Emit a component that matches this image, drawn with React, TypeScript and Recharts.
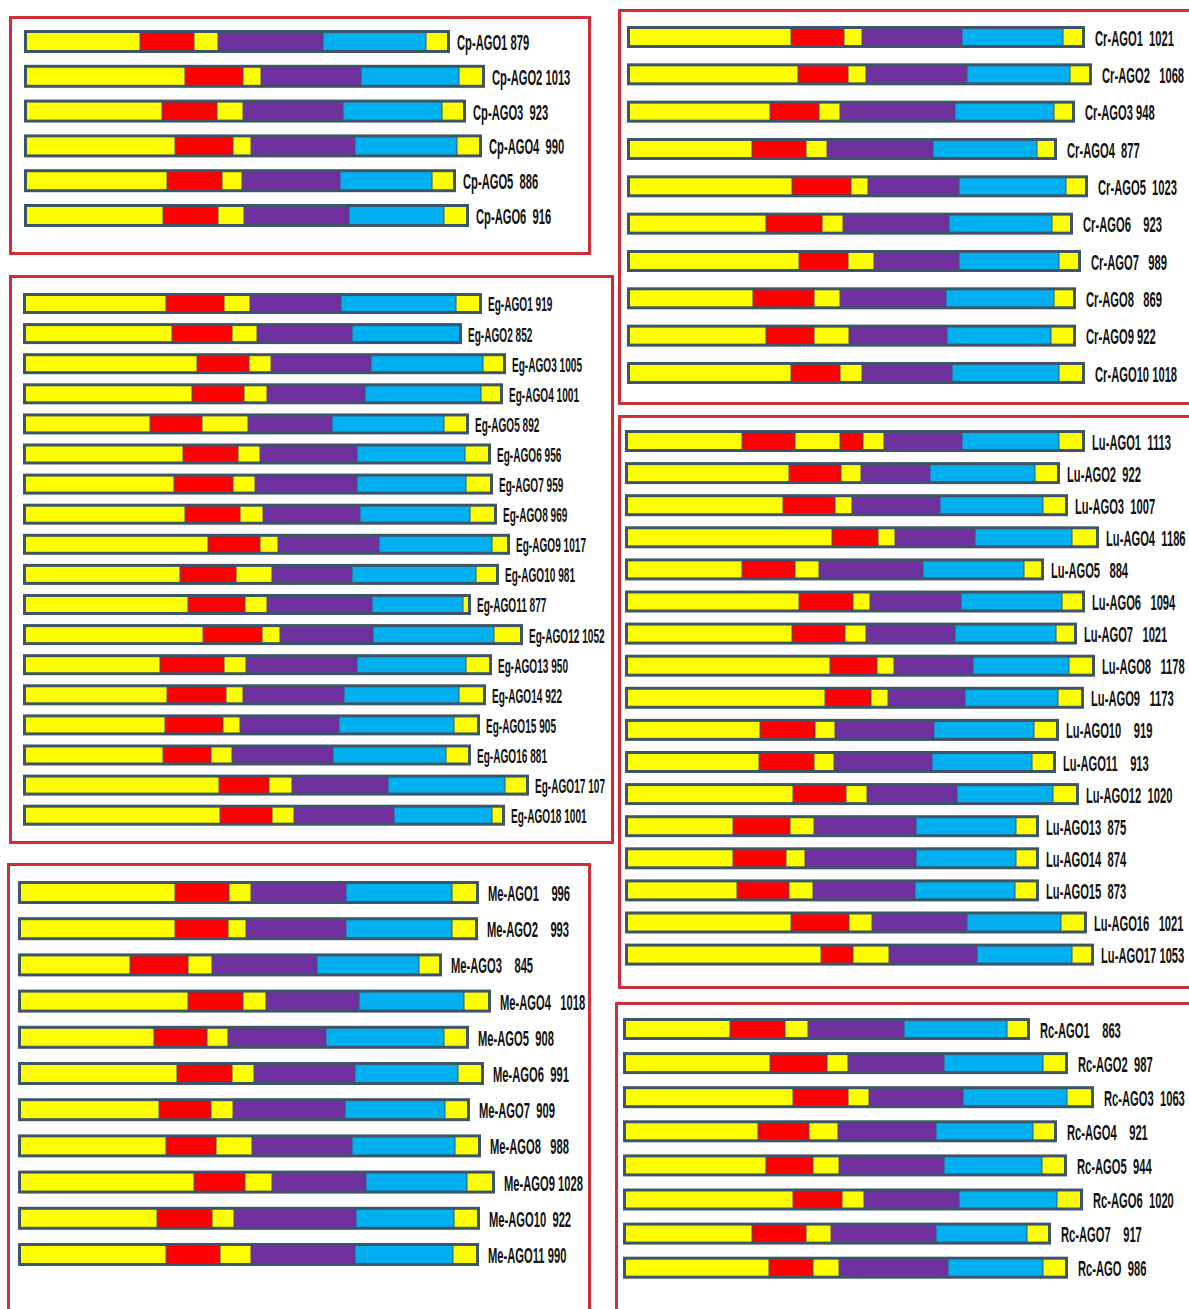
import React from 'react';
import { BarChart, Bar, XAxis, YAxis, Cell } from 'recharts';

// domain colours
const YELLOW = '#FFFF00';
const RED = '#FF0000';
const PURPLE = '#7030A0';
const BLUE = '#00B0F0';
const EDGE = '#3D5568';
const FRAME = '#CF2F37';

// usual order of the blocks, and the longer one used by Lu-AGO1
const DOMAINS6 = [YELLOW, RED, YELLOW, PURPLE, BLUE, YELLOW];
const DOMAINS8 = [YELLOW, RED, YELLOW, RED, YELLOW, PURPLE, BLUE, YELLOW];

// ---- Cp ----
const cpNames = ['Cp-AGO1 879', 'Cp-AGO2 1013', 'Cp-AGO3  923', 'Cp-AGO4  990', 'Cp-AGO5  886', 'Cp-AGO6  916'];
const cpSegs = [
  [116, 54, 24, 105, 103, 24],
  [161, 58, 18, 100, 98, 26],
  [138, 55, 26, 100, 99, 24],
  [151, 58, 18, 104, 102, 25],
  [143, 55, 20, 98, 92, 24],
  [139, 55, 26, 105, 95, 25],
];

// ---- Eg ----
const egNames = [
  'Eg-AGO1 919', 'Eg-AGO2 852', 'Eg-AGO3 1005', 'Eg-AGO4 1001', 'Eg-AGO5 892', 'Eg-AGO6 956',
  'Eg-AGO7 959', 'Eg-AGO8 969', 'Eg-AGO9 1017', 'Eg-AGO10 981', 'Eg-AGO11 877', 'Eg-AGO12 1052',
  'Eg-AGO13 950', 'Eg-AGO14 922', 'Eg-AGO15 905', 'Eg-AGO16 881', 'Eg-AGO17 107', 'Eg-AGO18 1001',
];
const egSegs = [
  [143, 58, 26, 91, 115, 26],
  [149, 60, 25, 95, 110, 0],
  [174, 52, 22, 100, 112, 23],
  [169, 52, 23, 98, 116, 22],
  [127, 52, 46, 84, 112, 25],
  [160, 55, 22, 97, 108, 26],
  [151, 59, 22, 102, 109, 27],
  [162, 55, 23, 97, 110, 27],
  [185, 52, 18, 101, 113, 18],
  [157, 56, 36, 80, 124, 23],
  [165, 57, 22, 105, 91, 8],
  [180, 59, 18, 93, 121, 29],
  [137, 64, 22, 111, 109, 26],
  [144, 59, 17, 101, 115, 27],
  [142, 58, 17, 99, 115, 26],
  [140, 48, 21, 101, 113, 25],
  [196, 50, 23, 96, 117, 24],
  [197, 52, 22, 100, 98, 13],
];

// ---- Me ----
const meNames = [
  'Me-AGO1    996', 'Me-AGO2    993', 'Me-AGO3    845', 'Me-AGO4   1018', 'Me-AGO5  908', 'Me-AGO6  991',
  'Me-AGO7  909', 'Me-AGO8   988', 'Me-AGO9 1028', 'Me-AGO10  922', 'Me-AGO11 990',
];
const meSegs = [
  [157, 54, 22, 95, 106, 27],
  [157, 53, 18, 100, 106, 26],
  [112, 58, 24, 105, 102, 23],
  [170, 55, 23, 93, 105, 27],
  [136, 53, 21, 98, 118, 25],
  [159, 55, 22, 101, 103, 26],
  [141, 52, 22, 112, 100, 25],
  [148, 50, 36, 100, 103, 26],
  [176, 51, 27, 94, 101, 28],
  [139, 55, 22, 122, 98, 26],
  [148, 54, 31, 104, 98, 26],
];

// ---- Cr ----
const crNames = [
  'Cr-AGO1  1021', 'Cr-AGO2   1068', 'Cr-AGO3 948', 'Cr-AGO4  877', 'Cr-AGO5  1023',
  'Cr-AGO6    923', 'Cr-AGO7   989', 'Cr-AGO8   869', 'Cr-AGO9 922', 'Cr-AGO10 1018',
];
const crSegs = [
  [164, 53, 18, 100, 101, 22],
  [171, 50, 18, 101, 103, 22],
  [143, 49, 21, 115, 99, 21],
  [125, 54, 21, 106, 104, 20],
  [165, 59, 17, 91, 107, 22],
  [139, 56, 21, 106, 103, 21],
  [172, 49, 26, 85, 100, 22],
  [126, 61, 26, 106, 108, 22],
  [139, 48, 35, 98, 104, 25],
  [164, 49, 22, 90, 107, 26],
];

// ---- Lu ----
const luNames = [
  'Lu-AGO1  1113', 'Lu-AGO2  922', 'Lu-AGO3  1007', 'Lu-AGO4  1186', 'Lu-AGO5   884', 'Lu-AGO6   1094',
  'Lu-AGO7   1021', 'Lu-AGO8   1178', 'Lu-AGO9   1173', 'Lu-AGO10    919', 'Lu-AGO11    913',
  'Lu-AGO12  1020', 'Lu-AGO13  875', 'Lu-AGO14  874', 'Lu-AGO15  873', 'Lu-AGO16   1021', 'Lu-AGO17 1053',
];
const luSegs = [
  [117, 53, 45, 23, 21, 78, 97, 26],
  [164, 52, 20, 69, 105, 25],
  [158, 52, 17, 88, 103, 25],
  [207, 46, 17, 80, 97, 27],
  [117, 53, 24, 104, 101, 20],
  [174, 54, 17, 91, 101, 23],
  [167, 53, 21, 89, 101, 21],
  [205, 47, 17, 79, 96, 26],
  [200, 46, 17, 77, 93, 26],
  [135, 55, 20, 99, 100, 25],
  [134, 55, 20, 98, 100, 24],
  [168, 53, 21, 90, 96, 26],
  [108, 57, 24, 102, 100, 23],
  [108, 53, 19, 111, 100, 23],
  [112, 52, 24, 102, 100, 24],
  [166, 58, 23, 95, 94, 26],
  [196, 32, 36, 88, 95, 22],
];

// ---- Rc ----
const rcNames = [
  'Rc-AGO1    863', 'Rc-AGO2  987', 'Rc-AGO3  1063', 'Rc-AGO4    921', 'Rc-AGO5  944',
  'Rc-AGO6  1020', 'Rc-AGO7    917', 'Rc-AGO  986',
];
const rcSegs = [
  [107, 55, 23, 96, 103, 23],
  [147, 57, 21, 96, 99, 25],
  [170, 55, 21, 94, 104, 27],
  [135, 51, 29, 98, 97, 24],
  [143, 47, 26, 105, 98, 25],
  [170, 49, 22, 95, 98, 26],
  [129, 54, 25, 105, 91, 24],
  [146, 44, 26, 109, 95, 25],
];

const MAX_SEGS = 8;
const BORDER = 3;

const lastNonZero = (row: number[]) => {
  let k = row.length - 1;
  while (k > 0 && !row[k]) k--;
  return k;
};

interface PanelProps {
  names: string[];
  segs: number[][];
  left: number;
  top: number;
  width: number;
  rowHeight: number;
  barSize?: number;
  labelGap?: number;
  fontSize?: number;
  textWidth?: number; // horizontal size of the squeezed label font
}

const DomainPanel: React.FC<PanelProps> = ({
  names, segs, left, top, width, rowHeight, barSize = 21, labelGap = 8, fontSize = 22, textWidth = 11.2,
}) => {
  const data = segs.map((s, i) => {
    const row: Record<string, any> = { name: names[i] };
    for (let k = 0; k < MAX_SEGS; k++) row['s' + k] = s[k] ?? 0;
    return row;
  });
  const squeeze = textWidth / fontSize;

  const renderSeg = (k: number) => (props: any) => {
    const { x, y, width: w, height: h, index } = props;
    const row = segs[index];
    if (!row || !row[k] || !(w > 0)) return <g />;
    const colors = row.length > 6 ? DOMAINS8 : DOMAINS6;
    const first = k === 0;
    const last = k === lastNonZero(row);
    const l = first ? BORDER : 0.5;
    const r = last ? BORDER : 0.5;
    return (
      <g>
        <rect x={x} y={y} width={w} height={h} fill={EDGE} />
        <rect x={x + l} y={y + BORDER} width={Math.max(0, w - l - r)} height={h - 2 * BORDER} fill={colors[k]} />
        {last && (
          <text
            transform={`translate(${x + w + labelGap},${y + h / 2 + 1}) scale(${squeeze},1)`}
            dominantBaseline="central"
            fontFamily="'Liberation Sans', Arial, sans-serif"
            fontSize={fontSize}
            fontWeight="bold"
            fill="#111"
            style={{ whiteSpace: 'pre' }}
          >
            {names[index]}
          </text>
        )}
      </g>
    );
  };

  return (
    <div style={{ position: 'absolute', left, top }}>
      <BarChart
        width={width}
        height={rowHeight * segs.length}
        data={data}
        layout="vertical"
        margin={{ top: 0, right: 0, bottom: 0, left: 0 }}
        barSize={barSize}
      >
        <XAxis type="number" hide domain={[0, width]} allowDataOverflow />
        <YAxis type="category" dataKey="name" hide />
        {Array.from({ length: MAX_SEGS }, (_, k) => (
          <Bar key={k} dataKey={'s' + k} stackId="dom" isAnimationActive={false} shape={renderSeg(k)}>
            {data.map((_, i) => (
              <Cell key={i} fill={(segs[i].length > 6 ? DOMAINS8 : DOMAINS6)[k] || YELLOW} />
            ))}
          </Bar>
        ))}
      </BarChart>
    </div>
  );
};

const Frame: React.FC<{ left: number; top: number; width: number; height: number }> = ({ left, top, width, height }) => (
  <div
    style={{
      position: 'absolute',
      left,
      top,
      width,
      height,
      border: `3px solid ${FRAME}`,
      boxSizing: 'border-box',
    }}
  />
);

export default function App() {
  return (
    <div
      style={{
        position: 'absolute',
        left: 0,
        top: 0,
        width: 1189,
        height: 1309,
        overflow: 'hidden',
        background: '#fff',
      }}
    >
      <Frame left={9} top={16} width={582} height={239} />
      <Frame left={9} top={275} width={605} height={569} />
      <Frame left={7} top={863} width={584} height={470} />
      <Frame left={618} top={9} width={600} height={396} />
      <Frame left={618} top={415} width={600} height={574} />
      <Frame left={615} top={1002} width={600} height={340} />

      <DomainPanel names={cpNames} segs={cpSegs} left={24} top={24} width={566} rowHeight={34.8} barSize={23} labelGap={7} />
      <DomainPanel names={egNames} segs={egSegs} left={23} top={288} width={582} rowHeight={30.1} barSize={21} labelGap={6} fontSize={20} textWidth={10.08} />
      <DomainPanel names={meNames} segs={meSegs} left={18} top={874} width={572} rowHeight={36.2} barSize={23} labelGap={9} />
      <DomainPanel names={crNames} segs={crSegs} left={627} top={18} width={562} rowHeight={37.33} barSize={22} labelGap={10} />
      <DomainPanel names={luNames} segs={luSegs} left={625} top={425} width={564} rowHeight={32.1} barSize={22} labelGap={7} />
      <DomainPanel names={rcNames} segs={rcSegs} left={623} top={1012} width={566} rowHeight={34.1} barSize={22} labelGap={10} />
    </div>
  );
}
